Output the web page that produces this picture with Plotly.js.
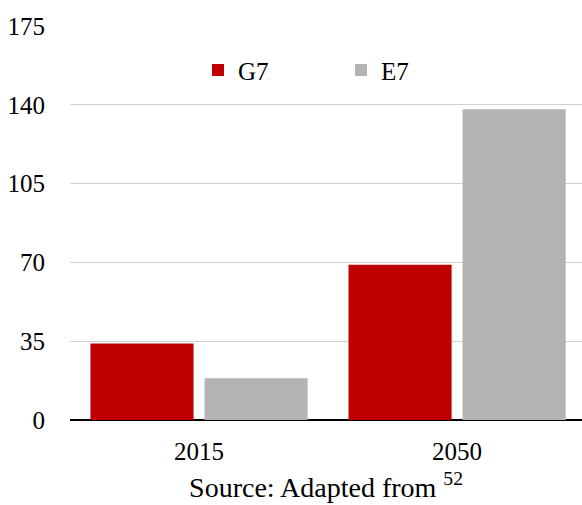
<!DOCTYPE html>
<html><head><meta charset="utf-8">
<script src="https://cdn.plot.ly/plotly-3.0.1.min.js"></script>
<style>html,body{margin:0;padding:0;background:#fff}#chart{width:582px;height:505px}</style>
</head><body><div id="chart"></div>
<script>
const categories = ["2015", "2050"];
const seriesNames = ["G7", "E7"];
const g7Values = [34, 69];
const e7Values = [18.5, 138];
const yTicks = [0, 35, 70, 105, 140, 175];
const colors = ["#C00000", "#B3B3B3"];

const font = "'Liberation Serif', 'Times New Roman', serif";
const traces = [
  {type: "bar", name: seriesNames[0], x: categories, y: g7Values, marker: {color: colors[0]}},
  {type: "bar", name: seriesNames[1], x: categories, y: e7Values, marker: {color: colors[1]}}
];
const layout = {
  width: 582, height: 505,
  margin: {l: 70, r: 0, t: 26, b: 85, pad: 0},
  paper_bgcolor: "#fff", plot_bgcolor: "#fff",
  font: {family: font, size: 24, color: "#000"},
  barmode: "group", bargap: 0.116, bargroupgap: 0.096,
  showlegend: true,
  legend: {orientation: "h", x: 0.25, xanchor: "left", y: 0.888, yanchor: "middle",
           entrywidth: 98, entrywidthmode: "pixels", font: {size: 25, family: font, color: "#000"},
           bgcolor: "rgba(0,0,0,0)"},
  xaxis: {type: "category", range: [-0.5, 1.484], showgrid: false, showline: false,
          ticks: "outside", ticklen: 9, tickcolor: "rgba(0,0,0,0)",
          tickfont: {size: 25, family: font, color: "#000"}, automargin: false,
          title: {text: "Source: Adapted from <sup>52</sup>", font: {size: 28, family: font, color: "#000"}, standoff: 13}},
  yaxis: {range: [0, 175], tickvals: yTicks, ticktext: yTicks.map(String), showgrid: true,
          gridcolor: "#D0D0D0", gridwidth: 1, zeroline: true, zerolinecolor: "#000", zerolinewidth: 2,
          showline: false, ticks: "outside", ticklen: 19, tickcolor: "rgba(0,0,0,0)",
          tickfont: {size: 25, family: font, color: "#000"}, automargin: false}
};
Plotly.newPlot("chart", traces, layout, {displayModeBar: false, staticPlot: true});
</script></body></html>
